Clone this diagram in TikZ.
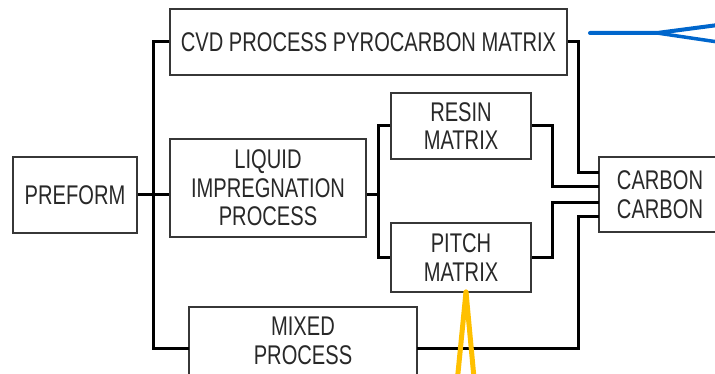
\documentclass[tikz,border=0pt]{standalone}
\usepackage{fontspec}
\setmainfont[FakeStretch=0.745]{Liberation Sans}
\definecolor{boxgray}{RGB}{55,55,55}
\definecolor{txtgray}{RGB}{40,40,40}
\definecolor{markblue}{RGB}{0,102,204}
\definecolor{markyellow}{RGB}{255,192,0}
\begin{document}
\begin{tikzpicture}[x=1pt,y=-1pt,
  box/.style={draw=boxgray, line width=1.5pt, inner sep=0pt, align=center, text=txtgray,
              font=\fontsize{27}{28.5}\selectfont},
  conn/.style={line width=3pt, draw=black},
  marker/.style={line cap=round, line join=round}]
\useasboundingbox (0,0) rectangle (715,374);
\clip (0,0) rectangle (715,374);

% boxes
\node[box, minimum width=124pt, minimum height=76pt] (pre) at (75,195) {PREFORM};
\node[box, minimum width=397pt, minimum height=66pt] (cvd) at (368.5,42) {CVD PROCESS PYROCARBON MATRIX};
\node[box, minimum width=196pt, minimum height=98pt] (liq) at (268,188) {LIQUID\\IMPREGNATION\\PROCESS};
\node[box, minimum width=140pt, minimum height=66pt] (resin) at (461,126) {RESIN\\MATRIX};
\node[box, minimum width=140pt, minimum height=69pt] (pitch) at (461,257.5) {PITCH\\MATRIX};
\node[box, minimum width=122pt, minimum height=75pt] (carb) at (660,194.5) {CARBON\\CARBON};
\node[box, minimum width=228pt, minimum height=68pt] (mix) at (303,341) {MIXED\\PROCESS};

% named connector points
\coordinate (b1) at (153,195);
\coordinate (b2) at (378,195);
\coordinate (mixin) at (189,348);
\coordinate (mixout) at (417,348);
\coordinate (c1) at (599,173);
\coordinate (c2) at (599,187);
\coordinate (c3) at (599,203);
\coordinate (c4) at (599,217);

% connectors
\draw[conn] (pre.east) -- (liq.west |- pre.east);
\draw[conn] (cvd.west) -| (b1) |- (mixin);
\draw[conn] (liq.east |- b2) -- (b2);
\draw[conn] (resin.west) -| (b2) |- (pitch.west);
\draw[conn] (cvd.east) -| ([xshift=-21pt]c1) -- (c1);
\draw[conn] (resin.east) -| ([xshift=-47pt]c2) -- (c2);
\draw[conn] (pitch.east) -| ([xshift=-47pt]c3) -- (c3);
\draw[conn] (mixout) -| ([xshift=-21pt]c4) -- (c4);

% marker strokes
\draw[marker, markblue, line width=4pt] (590,33) -- (657,33) -- (718,25);
\draw[marker, markblue, line width=3.5pt] (657,33) -- (718,42);
\draw[marker, markyellow, line width=5pt] (466,292) -- (457.5,378);
\draw[marker, markyellow, line width=5pt] (466,292) -- (474,378);
\end{tikzpicture}
\end{document}
